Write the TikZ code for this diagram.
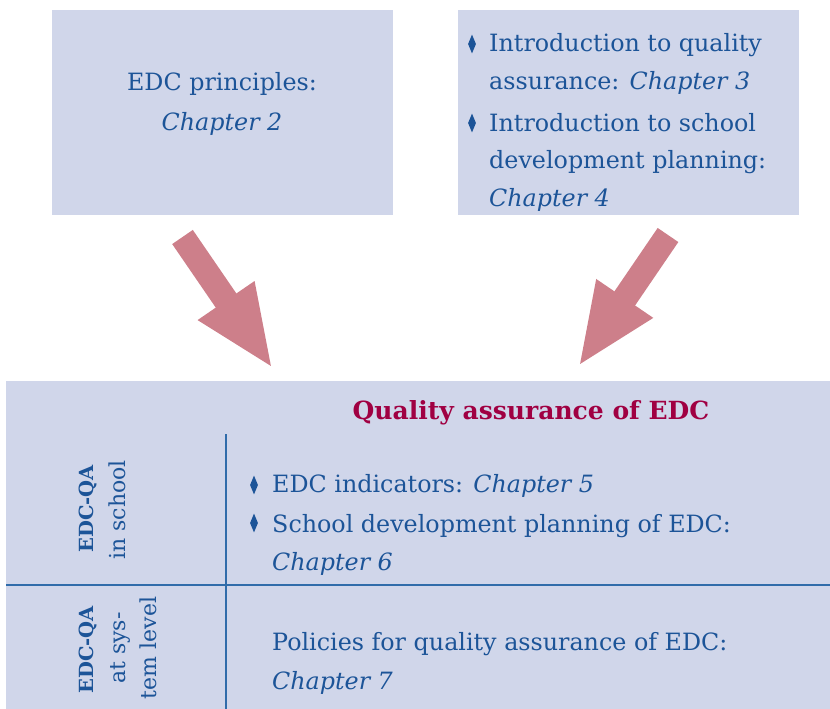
\documentclass[tikz,border=0pt]{standalone}
\usepackage{fontspec}
\setmainfont{DejaVu Serif}
\usetikzlibrary{shapes.geometric, arrows.meta, positioning}
\definecolor{edcpanel}{RGB}{208,214,234}
\definecolor{edcblue}{RGB}{28,84,152}
\definecolor{edcwine}{RGB}{160,0,66}
\definecolor{edcrose}{RGB}{205,127,138}
\definecolor{edcrule}{RGB}{48,108,170}

\begin{document}
\begin{tikzpicture}[x=1pt, y=-1pt,
    panel/.style={fill=edcpanel, anchor=north west, inner sep=0pt},
    txt/.style={anchor=base west, inner sep=0pt, text=edcblue, font=\fontsize{23.8}{28}\selectfont},
    bul/.style={diamond, fill=edcblue, minimum width=8pt, minimum height=19pt, inner sep=0pt},
    side/.style={anchor=base, rotate=90, inner sep=0pt, text=edcblue, font=\fontsize{22}{26}\selectfont},
    bigarrow/.style={draw=edcrose, line width=25pt, -{Triangle[length=83pt, width=62pt]}},
    rule/.style={draw=edcrule, line width=2pt}]
    \useasboundingbox (0,0) rectangle (830,709);
    % panels
    \node[panel, minimum width=341pt, minimum height=205pt] (edc) at (52,10) {};
    \node[panel, minimum width=341pt, minimum height=205pt] (intro) at (458,10) {};
    \node[panel, minimum width=824pt, minimum height=328pt] (qa) at (6,381) {};
    % top left
    \node[txt, anchor=base] (p1) at (222,90) {EDC principles:};
    \node[txt, anchor=base] (p2) at (222,130) {\itshape Chapter 2};
    % top right
    \node[bul] (b1) at (472,44) {};
    \node[txt] (i1) at (489,52) {Introduction to quality};
    \node[txt] (i2) at (489,89) {assurance: \textit{Chapter 3}};
    \node[bul] (b2) at (472,123) {};
    \node[txt] (i3) at (489,131) {Introduction to school};
    \node[txt] (i4) at (489,168) {development planning:};
    \node[txt] (i5) at (489,206) {\itshape Chapter 4};
    % arrows
    \coordinate (a1s) at (182.5,237);
    \coordinate (a1e) at (273,369);
    \coordinate (a2s) at (668,235);
    \coordinate (a2e) at (578,367);
    \draw[bigarrow] (a1s) -- (a1e);
    \draw[bigarrow] (a2s) -- (a2e);
    % bottom panel
    \node[anchor=base, inner sep=0pt, text=edcwine, font=\fontsize{25}{30}\selectfont\bfseries] (title) at (531,419) {Quality assurance of EDC};
    \draw[rule] (6,585) -- (830,585);
    \draw[rule] (226,434) -- (226,709);
    \node[side, font=\fontsize{19.5}{24}\selectfont\bfseries] (s1) at (93,509) {EDC-QA};
    \node[side] (s2) at (125,510) {in school};
    \node[side, font=\fontsize{19.5}{24}\selectfont\bfseries] (s3) at (93,650) {EDC-QA};
    \node[side] (s4) at (125,648) {at sys-};
    \node[side] (s5) at (156,648) {tem level};
    \node[bul] (b3) at (254,485) {};
    \node[txt] (q1) at (272,492) {EDC indicators: \textit{Chapter 5}};
    \node[bul] (b4) at (254,523) {};
    \node[txt] (q2) at (272,532) {School development planning of EDC:};
    \node[txt] (q3) at (272,570) {\itshape Chapter 6};
    \node[txt] (q4) at (272,650) {Policies for quality assurance of EDC:};
    \node[txt] (q5) at (272,689) {\itshape Chapter 7};
\end{tikzpicture}
\end{document}
